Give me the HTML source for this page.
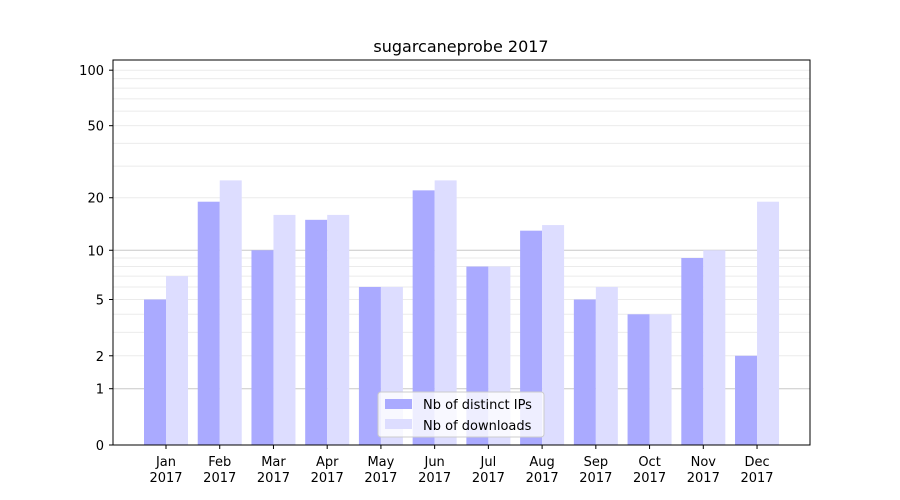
<!DOCTYPE html>
<html><head><meta charset="utf-8"><style>body{margin:0;background:#fff}svg{display:block}text{font-family:"DejaVu Sans","Liberation Sans",sans-serif}</style></head>
<body>
<svg width="900" height="500" xmlns="http://www.w3.org/2000/svg">
<rect width="900" height="500" fill="#fff"/>
<g id="grid" stroke-width="1"></g>
<g id="bars"></g>
<rect x="113" y="60" width="697" height="385" fill="none" stroke="#000" stroke-width="1"/>
<g id="ticks" font-size="13" fill="#000"></g>
<text x="461" y="52" font-size="16" text-anchor="middle">sugarcaneprobe 2017</text>
<g>
<rect x="378" y="392" width="166" height="45" rx="3" fill="#fff" fill-opacity="0.8" stroke="#ccc"/>
<rect x="385" y="399" width="27" height="10" fill="#aaaaff"/>
<text x="423" y="409" font-size="13">Nb of distinct IPs</text>
<rect x="385" y="419" width="27" height="10" fill="#ddddff"/>
<text x="423" y="430" font-size="13">Nb of downloads</text>
</g>
<script>
function Y(v){return 445-187*Math.log10(1+v);}
var ns="http://www.w3.org/2000/svg";
function el(p,t,a,txt){var e=document.createElementNS(ns,t);for(var k in a)e.setAttribute(k,a[k]);if(txt!=null)e.textContent=txt;p.appendChild(e);return e;}
var g=document.getElementById('grid'),b=document.getElementById('bars'),t=document.getElementById('ticks');
var minors=[2,3,4,5,6,7,8,9,20,30,40,50,60,70,80,90,100];
minors.forEach(function(v){var y=Y(v);el(g,'line',{x1:113,x2:810,y1:y,y2:y,stroke:'#ebebeb'});});
[1,10].forEach(function(v){var y=Y(v);el(g,'line',{x1:113,x2:810,y1:y,y2:y,stroke:'#c8c8c8'});});
var ip=[5,19,10,15,6,22,8,13,5,4,9,2],dl=[7,25,16,16,6,25,8,14,6,4,10,19];
var m=['Jan','Feb','Mar','Apr','May','Jun','Jul','Aug','Sep','Oct','Nov','Dec'];
for(var i=0;i<12;i++){var c=166+i*53.73;
el(b,'rect',{x:c-22,y:Y(ip[i]),width:22,height:445-Y(ip[i]),fill:'#aaaaff'});
el(b,'rect',{x:c,y:Y(dl[i]),width:22,height:445-Y(dl[i]),fill:'#ddddff'});
el(t,'line',{x1:c,x2:c,y1:445,y2:449,stroke:'#000'});
el(t,'text',{x:c,y:466,'text-anchor':'middle'},m[i]);
el(t,'text',{x:c,y:482,'text-anchor':'middle'},'2017');}
[0,1,2,5,10,20,50,100].forEach(function(v){var y=Y(v);el(t,'line',{x1:109,x2:113,y1:y,y2:y,stroke:'#000'});el(t,'text',{x:104,y:y+5,'text-anchor':'end'},v);});
</script>
</svg>
</body></html>
